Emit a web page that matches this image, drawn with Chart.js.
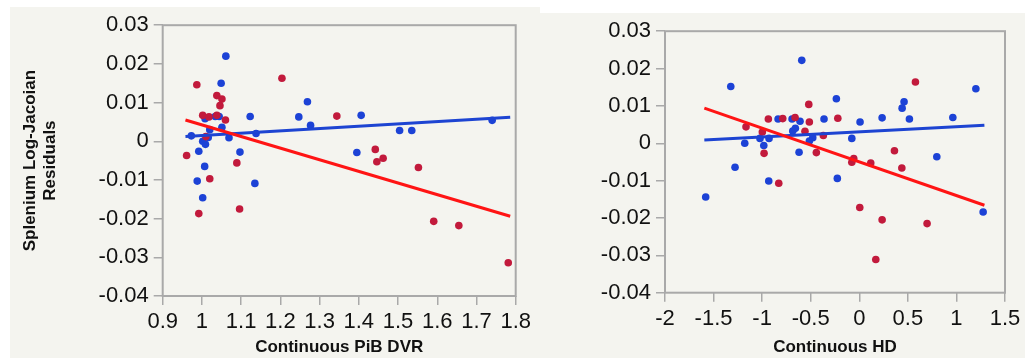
<!DOCTYPE html>
<html>
<head>
<meta charset="utf-8">
<script src="https://cdn.jsdelivr.net/npm/chart.js@4.4.1/dist/chart.umd.min.js"></script>
<style>
  html, body { margin: 0; padding: 0; background: #ffffff; }
  body { width: 1025px; height: 358px; position: relative; overflow: hidden; }
  .panel { position: absolute; background: #f4f4ef; }
  #leftPanel { left: 10px; top: 7px; width: 530px; height: 351px; }
  #rightPanel { left: 540px; top: 13px; width: 485px; height: 345px; }
  canvas { display: block; }
</style>
</head>
<body>
<div class="panel" id="leftPanel"><canvas id="pibChart" width="530" height="351"></canvas></div>
<div class="panel" id="rightPanel"><canvas id="hdChart" width="485" height="345"></canvas></div>
<script>
// left panel: residuals vs continuous PiB DVR
const pibBlueX = [1.061, 1.049, 1.269, 1.123, 1.247, 1.406, 1.034, 1.044, 1.008, 1.051, 1.277, 1.020, 1.138, 0.973, 1.069, 1.016, 1.504, 1.535, 1.740, 1.002, 1.009, 0.992, 1.097, 1.395, 1.007, 0.988, 1.002, 1.135];
const pibBlueY = [0.0220, 0.0150, 0.0102, 0.0064, 0.0063, 0.0067, 0.0064, 0.0064, 0.0058, 0.0036, 0.0041, 0.0030, 0.0020, 0.0014, 0.0009, 0.0010, 0.0028, 0.0028, 0.0054, 0.0000, -0.0008, -0.0026, -0.0028, -0.0029, -0.0065, -0.0103, -0.0146, -0.0109];
const pibRedX = [0.987, 1.204, 1.038, 1.051, 1.046, 1.002, 1.018, 1.038, 1.060, 1.344, 1.010, 0.961, 1.089, 1.442, 1.446, 1.462, 1.552, 1.020, 0.992, 1.096, 1.591, 1.655, 1.781];
const pibRedY = [0.0146, 0.0163, 0.0118, 0.0109, 0.0092, 0.0067, 0.0063, 0.0067, 0.0055, 0.0065, 0.0012, -0.0037, -0.0056, -0.0021, -0.0053, -0.0044, -0.0068, -0.0097, -0.0187, -0.0175, -0.0207, -0.0218, -0.0314];
const pibBlueFit = [[0.958, 0.0012], [1.786, 0.0062]];
const pibRedFit = [[0.958, 0.0055], [1.786, -0.0194]];

// right panel: residuals vs continuous HD
const hdBlueX = [-1.323, -0.592, 1.200, -0.236, 0.461, 0.441, -0.836, -0.692, -0.610, -0.363, 0.008, 0.235, 0.516, 0.963, -0.658, -0.685, -1.022, -0.929, -0.479, -0.514, -0.077, -1.179, -0.983, -0.620, 0.798, -1.279, -0.932, -0.226, -1.581, 1.275];
const hdBlueY = [0.0152, 0.0222, 0.0146, 0.0119, 0.0111, 0.0094, 0.0065, 0.0065, 0.0059, 0.0065, 0.0057, 0.0068, 0.0065, 0.0069, 0.0040, 0.0033, 0.0013, 0.0013, 0.0015, 0.0006, 0.0013, 0.0000, -0.0006, -0.0024, -0.0036, -0.0064, -0.0101, -0.0094, -0.0144, -0.0184];
const hdRedX = [0.578, -0.520, -0.936, -0.788, -0.661, -0.221, -0.514, -1.166, -0.559, -0.998, -0.370, -0.980, -0.442, 0.362, -0.057, -0.077, 0.118, 0.438, -0.829, 0.005, 0.235, 0.698, 0.170];
const hdRedY = [0.0164, 0.0104, 0.0065, 0.0066, 0.0069, 0.0067, 0.0057, 0.0044, 0.0032, 0.0030, 0.0021, -0.0027, -0.0025, -0.0020, -0.0041, -0.0051, -0.0053, -0.0066, -0.0107, -0.0172, -0.0205, -0.0215, -0.0311];
const hdBlueFit = [[-1.595, 0.0009], [1.288, 0.0048]];
const hdRedFit = [[-1.595, 0.0094], [1.288, -0.0166]];

const yTicks = { min: -0.04, max: 0.03, step: 0.01 };

const blueDot = '#1c42d6';
const redDot = '#c21a3c';
const blueLine = '#1d44d2';
const redLine = '#ff1414';
const frameGrey = '#a9a9a9';
const tickFamily = '"Liberation Sans", Arial, sans-serif';
const titleFont = { family: '"Liberation Sans Narrow", "Liberation Sans", Arial, sans-serif', size: 17, weight: 'bold', lineHeight: 1.2 };

function toPoints(xs, ys) {
    return xs.map((x, i) => ({ x: x, y: ys[i] }));
}

function fmtY(v) {
    if (Math.abs(v) < 1e-9) return '0';
    return v.toFixed(2);
}

function fmtX(v) {
    const n = parseFloat(v.toFixed(2));
    return Math.abs(n) < 1e-9 ? '0' : String(n);
}

const framePlugin = {
    id: 'frame',
    afterDraw(chart) {
        const a = chart.chartArea;
        const ctx = chart.ctx;
        ctx.save();
        ctx.strokeStyle = frameGrey;
        ctx.lineWidth = 2;
        ctx.strokeRect(a.left, a.top, a.right - a.left, a.bottom - a.top);
        ctx.restore();
    }
};

function makeChart(id, cfg) {
    const datasets = [
        { type: 'line', data: toPoints(cfg.redFit.map(p => p[0]), cfg.redFit.map(p => p[1])), borderColor: redLine, borderWidth: 3, pointRadius: 0, fill: false },
        { type: 'line', data: toPoints(cfg.blueFit.map(p => p[0]), cfg.blueFit.map(p => p[1])), borderColor: blueLine, borderWidth: 3, pointRadius: 0, fill: false },
        { data: toPoints(cfg.redX, cfg.redY), backgroundColor: redDot, borderWidth: 0, pointRadius: 3.8 },
        { data: toPoints(cfg.blueX, cfg.blueY), backgroundColor: blueDot, borderWidth: 0, pointRadius: 3.8 }
    ];
    return new Chart(document.getElementById(id), {
        type: 'scatter',
        data: { datasets: datasets },
        options: {
            responsive: false,
            animation: false,
            events: [],
            layout: { padding: cfg.padding },
            plugins: { legend: { display: false }, tooltip: { enabled: false } },
            scales: {
                x: {
                    type: 'linear',
                    min: cfg.xMin,
                    max: cfg.xMax,
                    afterFit: s => { s.height = cfg.xHeight; },
                    ticks: { stepSize: cfg.xStep, color: '#111', font: { family: tickFamily, size: 22 }, padding: 4, maxRotation: 0, autoSkip: false, callback: fmtX },
                    grid: { display: true, drawOnChartArea: false, drawTicks: true, tickLength: 9, color: frameGrey, lineWidth: 1.5 },
                    border: { display: false },
                    title: { display: true, text: cfg.xTitle, color: '#111', font: titleFont, padding: { top: 0, bottom: 0 } }
                },
                y: {
                    type: 'linear',
                    min: yTicks.min,
                    max: yTicks.max,
                    afterFit: s => { s.width = cfg.yWidth; },
                    ticks: { stepSize: yTicks.step, color: '#111', font: { family: tickFamily, size: 22 }, padding: 5, callback: fmtY },
                    grid: { display: true, drawOnChartArea: false, drawTicks: true, tickLength: 9, color: frameGrey, lineWidth: 1.5 },
                    border: { display: false },
                    title: cfg.yTitle ? { display: true, text: cfg.yTitle, color: '#111', font: titleFont, padding: { top: 10, bottom: 0 } } : { display: false }
                }
            }
        },
        plugins: [framePlugin]
    });
}

makeChart('pibChart', {
    blueX: pibBlueX, blueY: pibBlueY, redX: pibRedX, redY: pibRedY,
    blueFit: pibBlueFit, redFit: pibRedFit,
    xMin: 0.9, xMax: 1.8, xStep: 0.1,
    xTitle: 'Continuous PiB DVR',
    yTitle: ['Splenium Log-Jacoian', 'Residuals'],
    padding: { left: 0, top: 15.7, right: 24.3, bottom: 0 },
    yWidth: 152.7, xHeight: 62
});

makeChart('hdChart', {
    blueX: hdBlueX, blueY: hdBlueY, redX: hdRedX, redY: hdRedY,
    blueFit: hdBlueFit, redFit: hdRedFit,
    xMin: -2, xMax: 1.5, xStep: 0.5,
    xTitle: 'Continuous HD',
    yTitle: null,
    padding: { left: 0, top: 15.5, right: 20, bottom: 0 },
    yWidth: 125, xHeight: 65.3
});
</script>
</body>
</html>
